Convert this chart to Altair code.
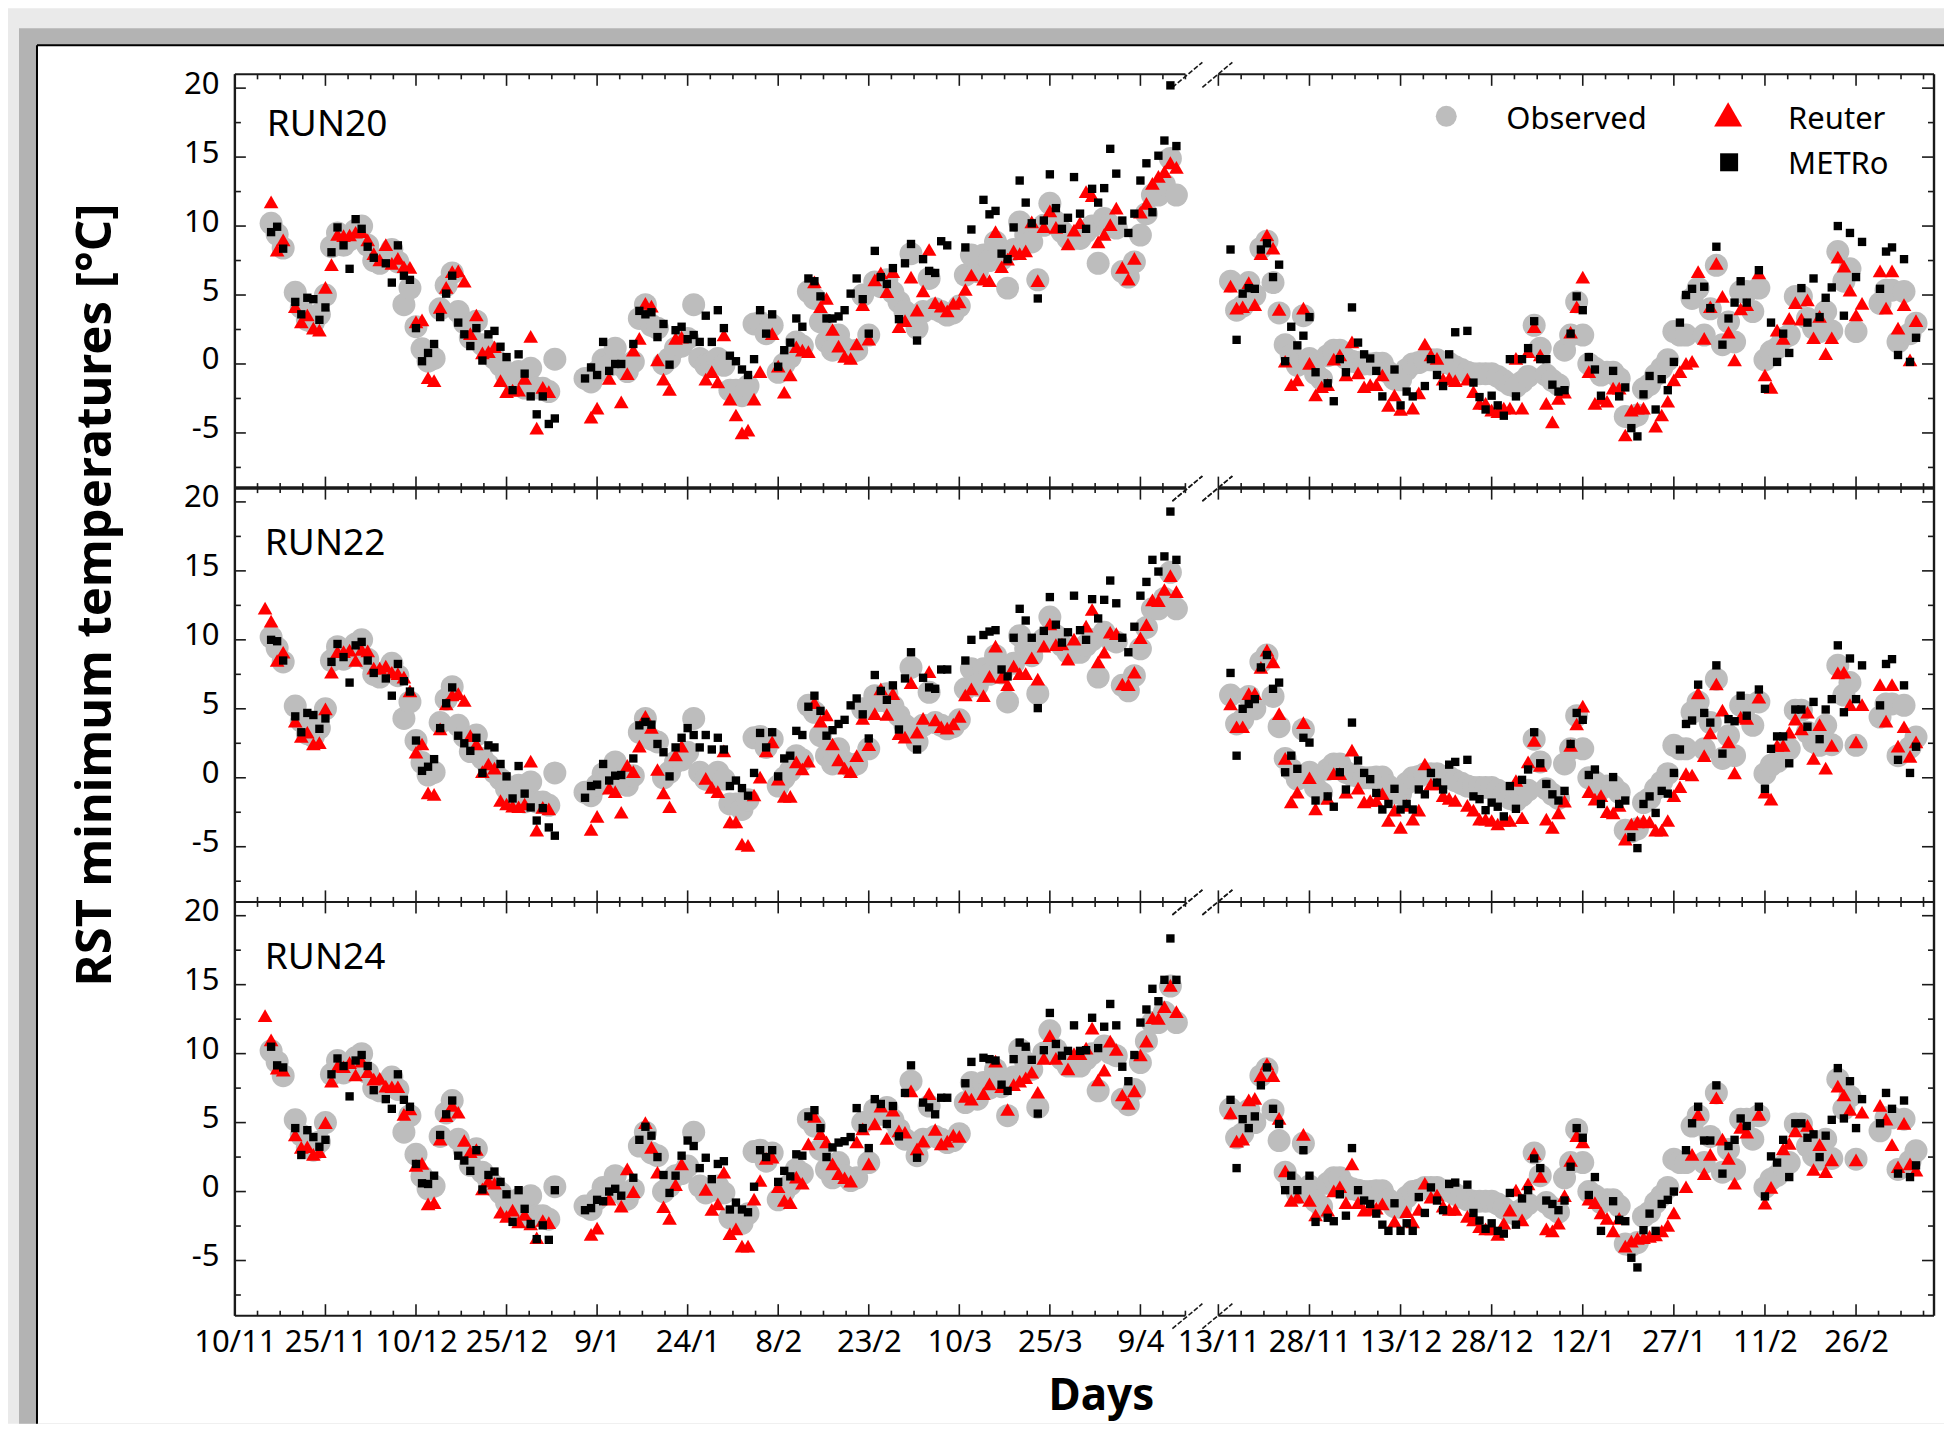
import altair as alt
import pandas as pd

FONT = "Noto Sans"

# (day index, deg C); day 0 = 10/11
OBSERVED = [(6,10.2),(7,9.4),(8,8.4),(10,5.2),(11,4.1),(12,3.2),(13,3.0),(14,3.6),(15,5.0),(16,8.5),(17,9.5),(18,8.6),(19,9.0),(20,9.7),(21,10.0),(22,8.6),(23,7.5),(24,7.3),(25,7.7),(26,8.3),(27,7.4),(28,4.3),(29,5.5),(30,2.7),(31,1.1),(32,0.2),(33,0.4),(34,4.0),(35,5.7),(36,6.6),(37,3.8),(38,3.0),(39,1.9),(40,3.1),(41,1.4),(42,0.9),(43,0.4),(44,-0.1),(45,-0.8),(46,-1.15),(47,-0.55),(48,-1.75),(49,-0.3),(50,-1.75),(51,-1.75),(52,-2.0),(53,0.35),
(58,-1.05),(59,-1.3),(60,-0.55),(61,0.3),(62,-0.1),(63,1.15),(64,-0.1),(65,-0.55),(66,0.15),(67,3.3),(68,4.3),(69,2.8),(70,2.6),(71,0.0),(72,0.4),(73,1.15),(74,1.3),(75,1.85),(76,4.3),(77,0.4),(78,-0.1),(79,0.1),(80,0.4),(81,-0.1),(82,-1.9),(83,-1.9),(84,-2.3),(85,-1.6),(86,2.9),(87,3.0),(88,2.2),(89,2.8),(90,-0.6),(91,0.0),(92,0.5),(93,1.6),(94,1.3),(95,5.25),(96,4.75),(97,3.05),(98,1.6),(99,1.0),(100,2.1),(101,1.15),(102,0.8),(103,1.0),(104,5.0),(105,2.1),(106,5.95),(107,5.6),(108,6.1),(109,5.2),(110,4.5),(111,3.8),(112,8.0),(113,2.6),(114,3.8),(115,6.2),(116,4.0),(117,3.8),(118,3.55),(119,3.7),(120,4.2),(121,6.45),(122,7.9),(123,6.7),(124,7.9),(125,7.5),(126,8.85),(127,7.6),(128,5.5),(129,8.3),(130,10.3),(131,9.35),(132,8.85),(133,6.1),(134,10.05),(135,11.65),(136,10.3),(137,9.6),(138,9.1),(139,9.1),(140,9.1),(141,9.6),(142,10.0),(143,7.3),(144,10.55),(145,10.05),(146,9.85),(147,6.7),(148,6.3),(149,7.4),(150,9.35),(151,10.9),(152,12.25),(153,12.25),(154,13.0),(155,14.9),(156,12.25),
(165,6.0),(166,3.9),(167,4.2),(168,5.9),(169,5.0),(170,8.4),(171,8.9),(172,5.9),(173,3.7),(174,1.4),(175,0.6),(176,-0.1),(177,3.5),(178,0.4),(179,-0.7),(180,-1.1),(181,0.6),(182,1.0),(183,1.0),(184,0.4),(185,0.2),(186,0.1),(187,0.0),(188,0.0),(189,0.05),(190,0.05),(191,-0.6),(192,-1.1),(193,-1.15),(194,-0.4),(195,0.0),(196,0.1),(197,0.3),(198,0.3),(199,0.3),(200,0.1),(201,0.05),(202,-0.2),(203,-0.4),(204,-0.6),(205,-0.7),(206,-0.7),(207,-0.7),(208,-0.7),(209,-0.9),(210,-1.2),(211,-1.5),(212,-1.65),(213,-1.3),(214,-0.9),(215,2.8),(216,1.15),(217,-0.8),(218,-1.2),(219,-1.5),(220,1.0),(221,2.1),(222,4.5),(223,2.1),(224,0.0),(225,-0.3),(226,-0.8),(227,-0.6),(228,-0.6),(229,-1.05),(230,-3.8),(231,-3.9),(232,-3.7),(233,-1.8),(234,-1.5),(235,-0.8),(236,-0.3),(237,0.3),(238,2.35),(239,2.1),(240,2.1),(241,4.75),(242,5.5),(243,2.1),(244,4.0),(245,7.15),(246,1.4),(247,3.05),(248,1.6),(249,5.25),(250,5.25),(251,3.8),(252,5.5),(253,0.3),(254,0.9),(255,1.15),(256,1.85),(257,2.1),(258,4.9),(259,4.9),(260,3.3),(261,2.6),(262,2.35),(263,3.8),(264,2.4),(265,8.15),(266,6.0),(267,6.9),(268,2.35),(272,4.4),(273,5.35),(274,5.35),(275,1.6),(276,5.25),(277,2.2),(278,2.95)]

METRO_20 = [(6,9.56),(7,9.95),(8,8.36),(10,4.5),(11,3.6),(12,4.8),(13,4.7),(14,3.2),(15,4.1),(16,8.1),(17,9.9),(18,8.6),(19,6.9),(20,10.5),(21,9.8),(22,8.5),(23,7.7),(25,7.3),(26,5.9),(27,8.6),(28,6.4),(29,6.1),(30,2.6),(31,0.2),(32,0.8),(33,1.45),(34,3.4),(35,5.1),(36,6.4),(37,3.0),(38,2.15),(39,1.3),(40,2.6),(41,0.25),(42,2.15),(43,2.4),(44,1.25),(45,0.5),(46,-1.9),(47,0.7),(48,-0.7),(49,-2.35),(50,-3.65),(51,-2.35),(52,-4.35),(53,-3.95),
(58,-1.05),(59,-0.25),(60,-0.8),(61,1.6),(62,-0.5),(63,0.0),(64,0.0),(66,1.45),(67,3.85),(68,3.6),(69,3.75),(70,1.95),(71,2.9),(72,-0.05),(73,2.45),(74,2.7),(75,1.8),(76,2.1),(77,1.6),(78,3.5),(79,1.6),(80,3.9),(81,2.6),(82,0.6),(83,0.2),(84,-0.4),(85,-0.8),(86,0.35),(87,3.9),(88,2.2),(89,3.6),(90,-0.2),(91,1.0),(92,1.55),(93,3.3),(94,2.7),(95,6.2),(96,6.0),(97,4.9),(98,3.3),(99,3.3),(100,3.45),(101,3.9),(102,5.1),(103,6.2),(104,4.7),(105,2.2),(106,8.2),(107,6.3),(108,5.8),(109,6.95),(110,3.25),(111,7.3),(112,8.7),(113,1.7),(114,7.6),(115,6.75),(116,6.6),(117,8.9),(118,8.6),(121,8.45),(122,9.75),(124,11.9),(125,10.85),(126,11.1),(127,8.0),(128,7.6),(129,9.9),(130,13.3),(131,11.7),(132,10.2),(133,4.75),(134,10.4),(135,13.75),(136,11.3),(137,9.8),(138,10.6),(139,13.55),(140,10.9),(141,9.8),(142,12.7),(143,11.7),(144,12.75),(145,15.6),(146,13.8),(147,10.4),(148,9.5),(149,10.9),(150,13.3),(151,14.55),(152,11.0),(153,15.1),(154,16.2),(155,20.2),(156,15.8),
(165,8.3),(166,1.75),(167,5.1),(168,5.5),(169,5.45),(170,8.3),(171,8.75),(172,6.3),(173,7.2),(174,0.2),(175,2.7),(176,1.35),(177,2.05),(178,3.4),(179,-0.6),(181,-1.4),(182,-2.7),(183,0.35),(184,-0.6),(185,4.1),(186,1.55),(187,0.7),(188,0.4),(189,-0.5),(190,-2.35),(192,-0.4),(193,-3.0),(194,-2.0),(195,-2.35),(197,-1.6),(198,0.35),(199,-0.8),(200,-1.6),(201,0.7),(202,2.3),(204,2.4),(205,-1.35),(206,-2.4),(207,-3.3),(208,-2.3),(209,-3.0),(210,-3.75),(211,0.35),(212,-2.35),(213,0.35),(214,1.15),(215,3.1),(216,0.35),(217,0.35),(218,-1.5),(219,-2.0),(220,-1.9),(221,2.2),(222,4.9),(223,3.9),(224,0.5),(225,-0.4),(226,-2.3),(228,-0.5),(229,-2.35),(230,-1.7),(231,-4.65),(232,-5.25),(233,-2.2),(234,-0.87),(235,-3.3),(236,-1.1),(237,-1.9),(238,0.15),(239,3.0),(240,5.0),(241,5.45),(243,5.6),(244,4.05),(245,8.5),(246,1.4),(247,3.3),(248,4.45),(249,6.0),(250,4.45),(252,6.8),(253,-1.8),(254,3.0),(255,0.15),(256,2.2),(257,0.8),(259,5.5),(260,3.0),(261,6.2),(262,3.4),(263,4.8),(264,5.55),(265,10.0),(266,3.5),(267,9.5),(268,6.3),(269,8.85),(272,5.45),(273,8.15),(274,8.45),(275,0.65),(276,7.6),(277,0.15),(278,1.9)]

REUTER_20 = [(6,11.75),(7,8.25),(8,9.0),(10,4.15),(11,3.05),(12,3.55),(13,2.6),(14,2.45),(15,5.55),(16,7.2),(17,9.4),(18,9.3),(19,9.35),(20,9.55),(21,9.6),(22,9.0),(23,8.0),(24,7.55),(25,8.65),(26,7.3),(27,7.65),(28,7.05),(29,7.0),(30,3.05),(31,3.2),(32,-1.0),(33,-1.2),(34,4.1),(35,5.55),(36,6.7),(37,6.75),(38,6.0),(39,2.2),(40,3.55),(41,0.8),(42,0.9),(43,1.25),(44,-1.2),(45,-2.0),(46,-1.9),(47,-1.9),(48,-1.05),(49,2.0),(50,-4.65),(51,-1.7),(52,-2.0),
(59,-3.85),(60,-3.2),(62,-1.05),(64,-2.75),(65,-0.7),(66,1.0),(67,1.85),(68,4.4),(69,4.2),(70,0.3),(71,-1.1),(72,-1.85),(73,1.85),(74,1.95),(78,-1.1),(79,-0.55),(80,-1.3),(81,2.1),(82,-2.55),(83,-3.7),(84,-5.0),(85,-4.8),(86,-2.55),(87,-0.55),(89,2.2),(90,-0.15),(91,-2.05),(92,-0.8),(93,1.25),(94,1.0),(95,0.9),(96,5.95),(97,4.15),(98,4.75),(99,2.5),(100,1.3),(101,0.55),(102,0.4),(103,1.45),(104,4.3),(105,1.8),(106,6.1),(107,6.6),(108,5.25),(109,6.7),(110,2.7),(111,3.15),(112,6.3),(113,3.9),(114,5.3),(115,8.3),(116,4.45),(117,4.2),(118,3.85),(119,4.4),(120,4.5),(121,5.4),(122,6.45),(124,6.15),(125,6.05),(126,9.6),(127,7.05),(128,7.6),(129,8.2),(130,8.0),(131,8.2),(132,10.3),(133,6.05),(134,9.95),(135,11.1),(136,9.9),(138,8.7),(139,9.7),(140,10.25),(141,12.5),(142,12.2),(143,8.85),(144,9.4),(145,10.1),(146,11.3),(147,7.0),(148,6.15),(149,7.65),(150,11.0),(151,11.65),(152,13.1),(153,13.6),(154,13.95),(155,14.6),(156,14.25),
(165,5.65),(166,4.05),(167,4.15),(168,5.9),(169,4.3),(170,8.0),(171,9.35),(172,8.4),(173,3.95),(174,0.2),(175,-1.5),(176,-1.15),(177,4.05),(178,0.05),(179,-2.25),(180,-1.65),(181,-1.5),(182,0.35),(183,0.65),(184,-0.8),(185,1.6),(186,-0.65),(187,-1.65),(188,-1.5),(189,-1.5),(190,-0.8),(191,-3.0),(192,-2.25),(193,-3.3),(195,-3.2),(196,-2.1),(197,1.45),(198,0.65),(199,0.4),(200,-1.1),(201,-1.05),(202,-1.2),(204,-1.1),(205,-2.0),(206,-2.85),(207,-2.85),(208,-3.35),(209,-3.45),(210,-3.2),(211,-3.2),(212,0.4),(213,-3.2),(214,0.9),(215,2.7),(216,0.65),(217,-2.85),(218,-4.2),(219,-2.5),(220,-2.05),(221,2.3),(222,4.15),(223,6.3),(224,-0.55),(225,-2.85),(226,-2.5),(227,-2.7),(228,-1.75),(229,-1.75),(230,-5.15),(231,-3.35),(232,-3.2),(233,-3.2),(235,-4.5),(236,-3.7),(237,-2.7),(238,-1.15),(239,-0.55),(240,0.05),(241,0.2),(242,6.7),(243,1.85),(244,4.15),(245,7.3),(246,4.9),(247,2.3),(248,0.3),(249,4.0),(250,4.3),(252,6.6),(253,-0.8),(254,-1.7),(255,2.45),(256,1.85),(257,3.3),(258,4.45),(259,3.25),(260,4.65),(261,1.9),(262,3.45),(263,0.75),(264,1.9),(265,7.75),(266,7.1),(267,5.35),(268,3.55),(269,4.4),(272,6.75),(273,4.05),(274,6.75),(275,2.6),(276,4.3),(277,0.3),(278,3.15)]

METRO_22 = [(6,10.0),(7,9.9),(8,8.5),(10,4.45),(11,3.3),(12,4.7),(13,4.55),(14,3.55),(15,4.3),(16,8.4),(17,9.7),(18,8.75),(19,6.9),(20,9.6),(21,9.85),(22,8.5),(23,7.6),(25,7.2),(26,5.95),(27,8.25),(28,7.0),(29,6.25),(30,2.7),(31,0.5),(32,0.8),(33,1.35),(34,3.6),(35,5.4),(36,6.55),(37,3.05),(38,2.5),(39,1.95),(40,2.9),(41,0.35),(42,2.35),(43,2.2),(44,1.0),(45,0.1),(46,-1.5),(47,0.85),(48,-1.15),(49,-2.15),(50,-3.1),(51,-2.2),(52,-3.6),(53,-4.2),
(58,-1.45),(59,-0.6),(60,-0.5),(61,1.0),(62,-0.2),(63,0.15),(64,0.2),(66,1.4),(67,3.8),(68,4.05),(69,3.85),(70,2.45),(71,1.85),(72,0.1),(73,2.2),(74,2.9),(75,3.6),(76,3.1),(77,2.2),(78,3.1),(79,2.05),(80,2.9),(81,2.05),(82,-0.6),(83,-0.2),(84,-0.75),(85,-1.3),(86,0.35),(87,3.25),(88,2.2),(89,3.3),(90,0.1),(91,1.4),(92,1.6),(93,3.4),(94,3.1),(95,5.15),(96,5.95),(97,4.85),(98,3.05),(99,3.45),(100,3.9),(101,4.2),(102,5.25),(103,5.75),(104,4.6),(105,2.85),(106,7.45),(107,6.3),(108,5.65),(109,6.7),(110,3.5),(111,7.2),(112,9.1),(113,2.05),(114,7.25),(115,6.55),(116,6.45),(117,7.85),(118,7.85),(121,8.5),(122,10.0),(124,10.35),(125,10.6),(126,10.7),(127,7.85),(128,7.35),(129,10.15),(130,12.25),(131,11.4),(132,10.15),(133,5.05),(134,10.65),(135,13.1),(136,11.1),(137,9.8),(138,10.55),(139,13.2),(140,10.7),(141,10.0),(142,12.95),(143,11.55),(144,12.9),(145,14.3),(146,12.65),(147,10.15),(148,9.1),(149,10.95),(150,13.2),(151,14.2),(152,15.8),(153,14.95),(154,16.05),(155,19.3),(156,15.8),
(165,7.6),(166,1.6),(167,5.0),(168,5.35),(169,5.7),(170,8.0),(171,8.9),(172,6.45),(173,6.9),(174,0.4),(175,1.6),(176,0.65),(177,2.9),(178,2.55),(179,-1.65),(181,-1.35),(182,-2.1),(183,0.4),(184,-0.85),(185,4.0),(186,1.25),(187,0.35),(188,-0.1),(189,-1.1),(190,-2.3),(191,-1.9),(192,-0.8),(193,-2.3),(194,-1.9),(195,-2.3),(196,-0.85),(197,-1.2),(198,0.35),(199,-0.35),(200,-0.85),(201,0.95),(202,1.15),(204,1.3),(205,-1.35),(206,-1.55),(207,-2.35),(208,-1.8),(209,-2.1),(210,-2.8),(211,-0.6),(212,-2.25),(213,-0.15),(214,0.6),(215,3.3),(216,1.05),(217,-0.45),(218,-1.2),(219,-1.65),(220,-0.95),(221,2.45),(222,4.7),(223,4.2),(224,0.2),(225,0.6),(226,-1.9),(228,0.05),(229,-1.9),(230,-1.65),(231,-4.3),(232,-5.1),(233,-1.9),(234,-1.35),(235,-2.55),(236,-0.95),(237,-1.15),(238,0.35),(239,2.05),(240,3.9),(241,4.15),(242,6.75),(243,4.7),(244,4.0),(245,8.15),(246,1.75),(247,4.25),(248,4.1),(249,5.95),(250,4.5),(252,6.4),(253,-0.8),(254,2.1),(255,3.0),(256,3.0),(257,1.05),(258,4.95),(259,4.95),(260,3.7),(261,5.5),(262,2.8),(263,4.95),(264,5.7),(265,9.6),(266,4.75),(267,8.65),(268,5.7),(269,8.15),(272,5.25),(273,8.25),(274,8.6),(275,1.3),(276,6.7),(277,0.35),(278,2.25)]

REUTER_22 = [(5,12.3),(6,11.35),(7,8.5),(8,9.1),(10,4.1),(11,3.0),(12,3.3),(13,2.45),(14,2.55),(15,5.0),(16,7.65),(17,9.15),(18,9.15),(19,9.25),(20,8.5),(21,9.3),(22,9.2),(23,7.95),(24,7.95),(25,8.1),(26,7.65),(27,7.55),(28,7.3),(29,6.3),(30,1.85),(31,2.45),(32,-1.1),(33,-1.2),(34,3.55),(35,5.35),(36,6.0),(37,6.1),(38,5.6),(39,3.05),(40,2.45),(41,0.45),(42,1.0),(43,0.7),(44,-1.65),(45,-1.9),(46,-2.05),(47,-2.1),(48,-1.9),(49,1.2),(50,-3.8),(51,-2.15),(52,-2.25),
(59,-3.75),(60,-2.8),(62,-0.75),(63,-1.0),(64,-2.5),(65,0.9),(66,0.45),(67,2.3),(68,4.45),(69,3.65),(70,0.6),(71,-1.1),(72,-2.1),(73,1.65),(74,2.3),(78,-0.05),(79,-0.7),(80,-1.0),(81,1.95),(82,-3.2),(83,-3.2),(84,-4.8),(85,-4.9),(86,-1.25),(87,0.05),(88,1.95),(89,2.6),(90,-0.1),(91,-1.35),(92,-1.35),(93,1.15),(94,0.65),(95,1.2),(96,5.45),(97,4.1),(98,4.55),(99,2.45),(100,1.3),(101,0.7),(102,0.45),(103,1.6),(104,4.3),(105,2.4),(106,4.65),(107,6.45),(108,4.6),(109,6.1),(110,3.2),(111,2.95),(112,6.9),(113,3.3),(114,4.3),(115,7.7),(116,4.2),(117,3.7),(118,3.6),(119,3.9),(120,4.45),(121,6.0),(122,6.45),(124,5.95),(125,7.35),(126,9.55),(127,7.3),(128,6.75),(129,8.1),(130,7.55),(131,7.55),(132,8.7),(133,7.15),(134,9.55),(135,11.15),(136,9.65),(137,9.7),(138,8.6),(139,10.05),(141,11.0),(142,12.2),(143,8.4),(144,9.1),(145,10.55),(146,10.45),(147,6.8),(148,6.75),(149,7.65),(150,10.15),(151,11.1),(152,12.9),(153,12.85),(154,13.65),(155,14.65),(156,13.5),
(165,5.35),(166,3.7),(167,3.7),(168,6.1),(169,6.1),(170,8.0),(171,9.25),(172,8.4),(173,4.65),(174,1.4),(175,-1.75),(176,-1.05),(177,4.0),(178,0.0),(179,-2.25),(181,-1.5),(182,0.3),(183,0.3),(184,-1.05),(185,2.0),(186,-0.75),(187,-1.75),(188,-1.65),(189,-1.65),(190,-1.15),(191,-3.1),(192,-2.35),(193,-3.6),(194,-2.0),(195,-3.0),(196,-2.35),(197,1.0),(198,-0.45),(199,-0.45),(200,-1.3),(201,-1.5),(202,-1.65),(204,-2.0),(205,-2.35),(206,-3.0),(207,-3.0),(208,-3.1),(209,-3.35),(210,-3.1),(211,-3.1),(212,-0.2),(213,-2.9),(214,1.15),(215,2.7),(216,0.9),(217,-3.0),(218,-3.6),(219,-2.55),(220,-1.7),(221,2.35),(222,3.9),(223,5.2),(224,-1.0),(225,-1.55),(226,-1.3),(227,-2.45),(228,-2.55),(229,-2.0),(230,-4.45),(231,-3.35),(232,-3.2),(233,-3.1),(234,-3.2),(235,-3.8),(236,-3.8),(237,-3.1),(238,-1.3),(239,-0.65),(240,0.3),(241,0.2),(242,6.15),(243,1.6),(244,3.25),(245,6.8),(246,4.9),(247,2.6),(248,0.35),(249,4.4),(250,4.3),(252,5.85),(253,-1.05),(254,-1.55),(255,2.35),(256,2.35),(257,3.3),(258,4.25),(259,3.55),(260,4.75),(261,1.4),(262,3.85),(263,0.7),(264,2.35),(265,7.6),(266,7.65),(267,5.3),(268,2.6),(269,5.3),(272,6.75),(273,4.1),(274,6.75),(275,2.3),(276,3.7),(277,1.55),(278,2.6)]

METRO_24 = [(6,10.5),(7,9.15),(8,9.0),(10,4.6),(11,2.65),(12,4.45),(13,3.95),(14,3.25),(15,3.75),(16,8.5),(17,9.65),(18,9.1),(19,6.9),(20,9.5),(21,9.9),(22,9.1),(23,7.35),(25,6.7),(26,6.0),(27,8.5),(28,6.65),(29,6.15),(30,2.0),(31,0.6),(32,0.55),(33,1.15),(34,4.1),(35,5.6),(36,6.6),(37,2.6),(38,2.25),(39,1.5),(40,3.0),(41,0.15),(42,1.2),(43,1.45),(44,0.7),(45,-0.2),(46,-2.2),(47,0.1),(48,-1.25),(49,-2.35),(50,-3.45),(51,-2.45),(52,-3.5),(53,0.1),
(58,-1.35),(59,-1.2),(60,-0.6),(61,-0.7),(62,0.0),(63,0.2),(64,-0.3),(66,1.0),(67,3.75),(68,4.7),(69,4.05),(70,2.5),(71,1.2),(72,-0.1),(73,1.15),(74,2.6),(75,3.7),(76,3.3),(77,1.7),(78,2.45),(79,0.9),(80,2.0),(81,2.2),(82,-1.3),(83,-0.8),(84,-1.3),(85,-1.5),(86,0.35),(87,3.0),(88,2.5),(89,3.0),(90,0.7),(91,1.5),(92,1.1),(93,2.7),(94,2.6),(95,5.45),(96,5.9),(97,4.6),(98,2.5),(99,3.2),(100,3.55),(101,3.65),(102,3.95),(103,6.05),(104,4.6),(105,3.15),(106,6.7),(107,6.35),(108,4.9),(109,6.2),(110,4.0),(111,7.15),(112,9.15),(113,2.45),(114,6.45),(115,6.1),(116,5.6),(117,6.8),(118,6.8),(121,7.85),(122,9.4),(124,9.7),(125,9.6),(126,9.5),(127,7.75),(128,7.3),(129,9.6),(130,10.8),(131,10.5),(132,9.55),(133,5.65),(134,10.25),(135,12.95),(136,10.7),(137,9.85),(138,10.2),(139,12.05),(140,10.2),(141,10.25),(142,12.6),(143,10.4),(144,11.95),(145,13.6),(146,12.05),(147,9.05),(148,8.0),(149,9.9),(150,12.25),(151,13.2),(152,14.7),(153,13.8),(154,15.35),(155,18.35),(156,15.35),
(165,6.65),(166,1.7),(167,5.25),(168,4.6),(169,5.45),(170,7.7),(171,9.0),(172,6.0),(173,4.9),(174,0.1),(175,1.15),(176,0.1),(177,3.0),(178,1.15),(179,-2.2),(181,-1.9),(182,-2.15),(183,-0.2),(184,-1.75),(185,3.15),(186,0.1),(187,-0.65),(188,-0.9),(189,-1.6),(190,-2.4),(191,-2.85),(192,-0.85),(193,-2.85),(194,-2.3),(195,-2.85),(196,-0.4),(197,-1.55),(198,0.3),(199,-0.65),(200,-1.35),(201,0.55),(202,0.65),(204,0.5),(205,-1.55),(206,-2.1),(207,-2.7),(208,-2.3),(209,-2.85),(210,-3.05),(211,-0.1),(212,-2.4),(213,-0.5),(214,0.1),(215,2.4),(216,1.7),(217,-0.65),(218,-0.9),(219,-1.35),(220,-0.65),(221,1.8),(222,4.6),(223,3.9),(224,-0.25),(225,1.05),(226,-2.85),(228,-0.7),(229,-2.05),(230,-2.15),(231,-4.8),(232,-5.5),(233,-2.8),(234,-1.6),(235,-2.85),(236,-0.9),(237,-0.6),(238,0.0),(240,3.0),(241,4.95),(242,6.15),(243,3.7),(244,3.7),(245,7.7),(246,1.3),(247,3.3),(248,3.75),(249,5.3),(250,4.75),(252,6.15),(253,-0.35),(254,2.55),(255,2.1),(256,3.75),(257,1.05),(258,4.95),(259,4.95),(260,3.9),(261,4.15),(262,2.5),(263,4.05),(264,5.2),(265,8.95),(266,5.3),(267,8.0),(268,4.6),(269,6.7),(272,4.95),(273,7.15),(274,6.0),(275,1.3),(276,6.6),(277,1.05),(278,1.9)]

REUTER_24 = [(5,12.75),(6,11.0),(7,8.95),(8,8.8),(10,4.1),(11,3.2),(12,3.25),(13,2.7),(14,2.9),(15,5.0),(16,8.0),(17,9.1),(18,9.05),(19,9.35),(20,8.45),(21,9.45),(22,8.7),(23,8.15),(24,8.2),(25,7.65),(26,7.6),(27,7.6),(28,5.6),(29,6.0),(30,1.9),(31,2.05),(32,-0.9),(33,-0.8),(34,3.8),(35,5.5),(36,6.25),(37,5.75),(38,3.7),(39,2.9),(40,3.05),(41,0.2),(42,0.75),(43,0.6),(44,-1.5),(45,-1.8),(46,-1.35),(47,-2.2),(48,-1.65),(49,-2.35),(50,-3.35),(51,-2.1),(52,-2.25),
(59,-3.1),(60,-2.65),(62,-0.55),(64,-1.05),(65,1.65),(66,0.0),(68,5.0),(69,3.2),(70,1.4),(71,-1.1),(72,-1.95),(73,0.5),(74,2.0),(78,0.15),(79,-1.3),(80,-0.9),(81,1.4),(82,-3.05),(83,-2.7),(84,-3.95),(85,-3.95),(86,-0.55),(87,0.8),(88,2.4),(89,2.5),(90,0.35),(91,-0.65),(92,-0.8),(93,1.05),(94,0.6),(95,3.45),(96,5.45),(97,4.2),(98,3.6),(99,2.0),(100,1.3),(101,1.0),(102,0.75),(103,3.6),(104,4.55),(105,2.0),(106,4.9),(107,6.2),(108,3.85),(109,5.9),(110,4.4),(111,4.3),(112,7.3),(113,3.1),(114,3.65),(115,7.1),(116,4.5),(117,3.45),(118,3.65),(119,4.1),(120,4.0),(121,6.9),(122,6.7),(124,7.1),(125,7.8),(126,9.45),(127,7.6),(128,5.95),(129,7.75),(130,8.0),(131,8.25),(132,8.65),(133,7.2),(134,9.65),(135,11.3),(136,9.65),(138,8.9),(139,10.0),(140,10.0),(141,10.4),(142,11.85),(143,8.1),(144,8.8),(145,10.9),(146,10.3),(147,7.0),(148,6.4),(149,7.3),(150,9.9),(151,10.9),(152,12.6),(153,12.55),(154,13.4),(155,14.95),(156,13.05),
(165,5.7),(166,3.65),(167,3.8),(168,6.65),(169,6.75),(170,8.4),(171,9.25),(172,8.4),(173,5.3),(174,1.5),(175,-0.65),(176,-0.4),(177,4.15),(178,-0.65),(179,-1.7),(181,-1.35),(182,0.05),(183,0.35),(184,-0.8),(185,2.0),(186,-0.8),(187,-1.35),(188,-1.3),(189,-1.2),(190,-0.9),(192,-2.15),(194,-1.45),(195,-2.2),(196,-1.3),(197,0.6),(198,-0.4),(199,-0.25),(200,-1.05),(201,-1.3),(202,-1.3),(204,-1.8),(205,-2.05),(206,-2.55),(207,-2.7),(208,-2.7),(209,-3.1),(210,-2.3),(211,-1.35),(212,0.1),(213,-2.05),(214,0.55),(215,2.75),(216,1.1),(217,-2.7),(218,-2.85),(219,-2.3),(220,-0.3),(221,2.25),(222,4.05),(223,3.6),(224,-0.55),(225,-0.8),(226,-1.55),(227,-1.95),(228,-2.85),(229,-1.95),(230,-3.95),(231,-3.6),(232,-3.4),(233,-3.35),(234,-3.25),(235,-3.15),(236,-2.85),(237,-2.45),(238,-1.55),(240,0.35),(241,2.7),(242,5.6),(243,1.3),(244,2.7),(245,6.8),(246,3.8),(247,2.4),(248,0.6),(249,4.65),(250,4.3),(252,5.6),(253,-0.85),(254,0.3),(256,3.1),(257,3.5),(258,4.4),(260,4.8),(261,1.6),(262,3.4),(263,1.45),(264,2.3),(265,7.65),(266,7.0),(267,5.95),(268,2.3),(269,5.75),(272,6.25),(273,5.25),(274,3.4),(275,1.8),(276,4.95),(277,2.0),(278,1.55)]

X_MAJOR_DAYS = [0,15,30,45,60,75,90,105,120,135,150,163,178,193,208,223,238,253,268]
X_LABELS = ["10/11","25/11","10/12","25/12","9/1","24/1","8/2","23/2","10/3","25/3","9/4","13/11","28/11","13/12","28/12","12/1","27/1","11/2","26/2"]
Y_MAJOR = [-5,0,5,10,15,20]
Y_MINOR = [-7.5,-2.5,2.5,7.5,12.5,17.5]

W, H = 1700, 414
XMAX = 281
ONE = pd.DataFrame({"a": [0]})
xscale = alt.Scale(domain=[0, 150, 163, 268, XMAX], range=[0, 906, 984, 1622, W], nice=False, zero=False, clamp=False)
yscale = alt.Scale(domain=[-9, 21], nice=False, zero=False)

x_minor = [m + k * 3.75 for m in X_MAJOR_DAYS for k in (1, 2, 3) if m + k * 3.75 != 161.25 and m + k * 3.75 < XMAX]
BLACK = "#1a1a1a"
labelexpr = "[" + ",".join(f"'{s}'" for s in X_LABELS) + "][indexof([" + ",".join(map(str, X_MAJOR_DAYS)) + "],datum.value)]"


def pts(values, color, shape, size):
    df = pd.DataFrame(values, columns=["d", "t"])
    return alt.Chart(df).mark_point(filled=True, shape=shape, size=size, color=color, opacity=1, clip=False).encode(
        x=alt.X("d:Q", scale=xscale, axis=None),
        y=alt.Y("t:Q", scale=yscale, axis=None),
    )


def vrules(days, y0, y1, width=1.6):
    return alt.Chart(pd.DataFrame({"d": days})).mark_rule(color=BLACK, strokeWidth=width).encode(
        x=alt.X("d:Q", scale=xscale, axis=None), y=alt.value(y0), y2=alt.value(y1))


def hrules(vals, x0, x1, width=1.6):
    return alt.Chart(pd.DataFrame({"t": vals})).mark_rule(color=BLACK, strokeWidth=width).encode(
        y=alt.Y("t:Q", scale=yscale, axis=None), x=alt.value(x0), x2=alt.value(x1))


def hline(y, width):
    df = pd.DataFrame({"d": [0, 163], "e": [157.5, XMAX]})
    return alt.Chart(df).mark_rule(color=BLACK, strokeWidth=width).encode(
        x=alt.X("d:Q", scale=xscale, axis=None), x2="e:Q", y=alt.value(y))


def slash(x0, x1, y0, y1):
    return alt.Chart(ONE).mark_rule(color=BLACK, strokeWidth=1.6, strokeDash=[5, 2]).encode(
        x=alt.value(x0), x2=alt.value(x1), y=alt.value(y0), y2=alt.value(y1))


def slashes(y):
    return [slash(938, 968, y + 13, y - 12), slash(968, 998, y + 13, y - 12)]


def text(s, x, y, size, **kw):
    return alt.Chart(pd.DataFrame({"s": [s]})).mark_text(font=FONT, fontSize=size, color="black", align=kw.pop("align", "left"), baseline="middle", **kw).encode(
        text="s:N", x=alt.value(x), y=alt.value(y))


def rect(x0, x1, y0, y1, fill):
    return alt.Chart(ONE).mark_rect(color=fill).encode(
        x=alt.value(x0), x2=alt.value(x1), y=alt.value(y0), y2=alt.value(y1))


def guide_layers(show_dates, top_width, bottom_width):
    xaxis = alt.Axis(values=X_MAJOR_DAYS, labelExpr=labelexpr, ticks=False, domain=False, grid=False, title=None,
                     labelFont=FONT, labelFontSize=31, labelColor="black", labelPadding=12, labelOverlap=False,
                     labelBound=False, labelFlush=False, zindex=1) if show_dates else None
    yaxis = alt.Axis(values=Y_MAJOR, labelExpr="'' + datum.value", ticks=False, domain=False, grid=False, title=None,
                     labelFont=FONT, labelFontSize=31, labelColor="black", labelPadding=16, labelOffset=-4, zindex=1)
    base = alt.Chart(pd.DataFrame({"d": X_MAJOR_DAYS, "t": [0] * len(X_MAJOR_DAYS)})).mark_point(opacity=0).encode(
        x=alt.X("d:Q", scale=xscale, axis=xaxis), y=alt.Y("t:Q", scale=yscale, axis=yaxis))
    return [
        base,
        hline(0, top_width), hline(H, bottom_width),
        vrules(X_MAJOR_DAYS, 0, 11.5), vrules(x_minor, 0, 5),
        vrules(X_MAJOR_DAYS, H, H - 11.5), vrules(x_minor, H, H - 5),
        hrules(Y_MAJOR, 0, 11), hrules(Y_MINOR, 0, 6),
        hrules(Y_MAJOR, W, W - 12), hrules(Y_MINOR, W, W - 6),
        alt.Chart(ONE).mark_rule(color=BLACK, strokeWidth=2.4).encode(x=alt.value(0), y=alt.value(0), y2=alt.value(H)),
        alt.Chart(ONE).mark_rule(color=BLACK, strokeWidth=2.4).encode(x=alt.value(W), y=alt.value(0), y2=alt.value(H)),
        *slashes(0), *slashes(H),
    ]


def data_layers(reuter, metro):
    return [
        pts(OBSERVED, "#bdbdbd", "circle", 529),
        pts(reuter, "#ff0000", "triangle-up", 215),
        pts(metro, "#000000", "square", 70),
    ]


frame = [
    rect(-227, 1710, -66, 1350, "#eaeaea"),
    rect(-216, 1710, -46, 1350, "#b3b3b3"),
    rect(-198, 1710, -29, 1350, "#ffffff"),
    alt.Chart(ONE).mark_rule(color="black", strokeWidth=2).encode(x=alt.value(-198), x2=alt.value(1710), y=alt.value(-29)),
    alt.Chart(ONE).mark_rule(color="black", strokeWidth=2).encode(x=alt.value(-198), y=alt.value(-29), y2=alt.value(1350)),
]

legend = [
    alt.Chart(ONE).mark_point(filled=True, shape="circle", size=441, color="#bdbdbd", opacity=1).encode(x=alt.value(1212), y=alt.value(42)),
    alt.Chart(ONE).mark_point(filled=True, shape="triangle-up", size=784, color="#ff0000", opacity=1).encode(x=alt.value(1494), y=alt.value(40)),
    alt.Chart(ONE).mark_point(filled=True, shape="square", size=324, color="#000000", opacity=1).encode(x=alt.value(1495), y=alt.value(88)),
    text("Observed", 1272, 46, 31),
    text("Reuter", 1554, 46, 31),
    text("METRo", 1554, 91, 31),
]

p1 = alt.layer(*frame, *guide_layers(False, 2, 3.5), *data_layers(REUTER_20, METRO_20),
               text("RUN20", 32, 51, 37), *legend).resolve_axis(x="independent", y="independent").properties(width=W, height=H)
p2 = alt.layer(*guide_layers(False, 2, 2), *data_layers(REUTER_22, METRO_22), text("RUN22", 30, 56, 37),
               text("RST minimum temperatures [°C]", -139, 107, 49, fontWeight="bold", angle=270, align="center")
               ).resolve_axis(x="independent", y="independent").properties(width=W, height=H)
p3 = alt.layer(*guide_layers(True, 2, 2), *data_layers(REUTER_24, METRO_24), text("RUN24", 30, 56, 37),
               text("Days", 867, 495, 44, fontWeight="bold", align="center")).resolve_axis(x="independent", y="independent").properties(width=W, height=H)

chart = alt.vconcat(p1, p2, p3, spacing=0, bounds="flush").properties(padding=0, background="white")
chart = chart.configure_view(strokeWidth=0)
chart.save("out.html", embed_options={"renderer": "svg", "actions": False})
